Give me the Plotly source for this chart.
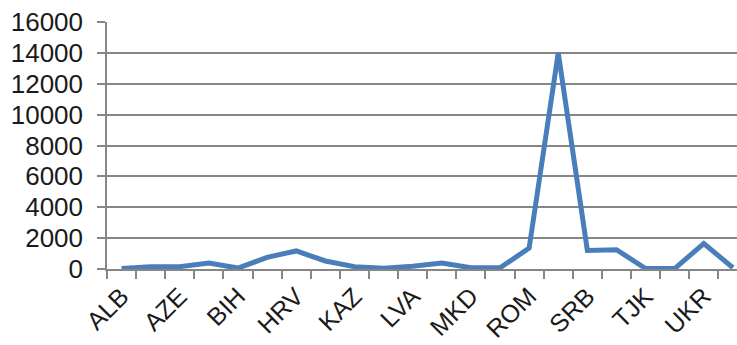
import plotly.graph_objects as go

# Country codes (every other one is labelled on the axis)
countries = ["ALB", "ARM", "AZE", "BGR", "BIH", "BLR", "HRV", "HUN", "KAZ", "KGZ", "LVA",
             "MDA", "MKD", "MNE", "ROM", "RUS", "SRB", "SVK", "TJK", "TKM", "UKR", "UZB"]
values = [30, 150, 150, 380, 60, 750, 1170, 520, 150, 50, 180,
          380, 80, 80, 1350, 14000, 1200, 1250, 30, 30, 1650, 80]
y_ticks = [0, 2000, 4000, 6000, 8000, 10000, 12000, 14000, 16000]

tick_text = [c if i % 2 == 0 else "" for i, c in enumerate(countries)]

fig = go.Figure(
    go.Scatter(
        x=countries,
        y=values,
        mode="lines",
        line=dict(color="#4A7EBB", width=5),
        hoverinfo="x+y",
    )
)

font_family = "Liberation Sans, Arial, sans-serif"

fig.update_layout(
    width=737,
    height=345,
    margin=dict(l=107, r=0, t=22, b=76),
    paper_bgcolor="white",
    plot_bgcolor="white",
    showlegend=False,
    font=dict(family=font_family, size=26, color="#1a1a1a"),
)

fig.update_xaxes(
    type="category",
    categoryorder="array",
    categoryarray=countries,
    range=[-0.5, 21.14],
    tickmode="array",
    tickvals=countries,
    ticktext=tick_text,
    tickangle=-45,
    tickfont=dict(size=25),
    tickson="boundaries",
    ticks="outside",
    ticklen=8,
    tickcolor="#868686",
    tickwidth=1.5,
    ticklabelstandoff=1,
    showline=True,
    linecolor="#868686",
    linewidth=1.5,
    showgrid=False,
    zeroline=False,
    automargin=False,
)

fig.update_yaxes(
    range=[0, 16000],
    tickmode="array",
    tickvals=y_ticks,
    ticktext=[str(v) for v in y_ticks],
    ticks="outside",
    ticklen=8,
    tickcolor="#868686",
    tickwidth=1.5,
    ticklabelstandoff=9,
    showline=True,
    linecolor="#868686",
    linewidth=1.5,
    showgrid=True,
    gridcolor="#868686",
    gridwidth=1.5,
    zeroline=False,
    automargin=False,
)

fig.write_html("out.html")
